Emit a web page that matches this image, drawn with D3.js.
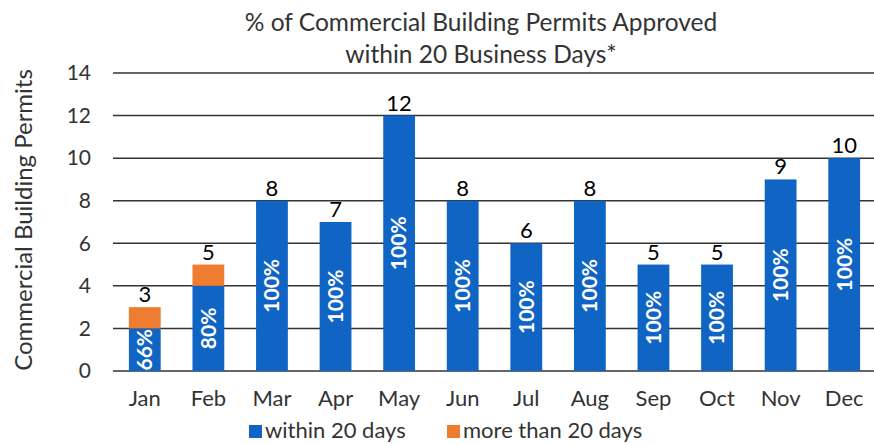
<!DOCTYPE html>
<html lang="en">
<head>
<meta charset="UTF-8">
<title>Commercial Building Permits</title>
<script src="https://cdn.jsdelivr.net/npm/d3@7"></script>
<style>
	body { margin: 0; background: #fff; }
	text { font-family: Lato, "Open Sans", sans-serif; }
</style>
</head>
<body>
<script>
	var months = ['Jan', 'Feb', 'Mar', 'Apr', 'May', 'Jun', 'Jul', 'Aug', 'Sep', 'Oct', 'Nov', 'Dec'];
	var within = [2, 4, 8, 7, 12, 8, 6, 8, 5, 5, 9, 10];
	var over = [1, 1, 0, 0, 0, 0, 0, 0, 0, 0, 0, 0];
	var pctLabels = ['66%', '80%', '100%', '100%', '100%', '100%', '100%', '100%', '100%', '100%', '100%', '100%'];
	var yTicks = [0, 2, 4, 6, 8, 10, 12, 14];

	var W = 874, H = 444;
	var margin = {top: 73, right: 0, bottom: 73, left: 113};
	var blue = '#0f64c4', orange = '#ee7d31';

	var svg = d3.select('body').append('svg')
		.attr('width', W)
		.attr('height', H);

	var x = d3.scaleBand()
		.domain(months)
		.range([margin.left, 876])
		.paddingInner(0.5)
		.paddingOuter(0.25);

	var y = d3.scaleLinear()
		.domain([0, 14])
		.range([371, margin.top]);

	// gridlines
	svg.append('g').selectAll('line')
		.data(yTicks)
		.enter().append('line')
		.attr('x1', margin.left).attr('x2', W)
		.attr('y1', function (d) { return y(d); })
		.attr('y2', function (d) { return y(d); })
		.style('stroke', '#333')
		.style('stroke-width', 1.5);

	var yAxis = svg.append('g')
		.attr('transform', 'translate(' + (margin.left - 14) + ',0)')
		.call(d3.axisLeft(y).tickValues(yTicks).tickSize(0).tickPadding(8));
	yAxis.select('.domain').remove();
	yAxis.selectAll('text').style('font-size', '21px').style('fill', '#333');

	var data = months.map(function (m, i) {
		return {month: m, within: within[i], over: over[i], pct: pctLabels[i]};
	});

	var bars = svg.selectAll('.bar')
		.data(data)
		.enter().append('g')
		.attr('class', 'bar');

	bars.append('rect')
		.attr('x', function (d) { return x(d.month); })
		.attr('width', x.bandwidth())
		.attr('y', function (d) { return y(d.within); })
		.attr('height', function (d) { return y(0) - y(d.within); })
		.style('fill', blue);

	bars.filter(function (d) { return d.over > 0; }).append('rect')
		.attr('x', function (d) { return x(d.month); })
		.attr('width', x.bandwidth())
		.attr('y', function (d) { return y(d.within + d.over); })
		.attr('height', function (d) { return y(d.within) - y(d.within + d.over); })
		.style('fill', orange);

	// totals above bars
	bars.append('text')
		.attr('x', function (d) { return x(d.month) + x.bandwidth() / 2; })
		.attr('y', function (d) { return y(d.within + d.over) - 5; })
		.attr('text-anchor', 'middle')
		.style('font-size', '22px')
		.style('fill', '#000')
		.text(function (d) { return d.within + d.over; });

	// percentages inside blue part
	bars.append('text')
		.attr('transform', function (d) {
			var cx = x(d.month) + x.bandwidth() / 2;
			var cy = (y(0) + y(d.within)) / 2;
			return 'translate(' + cx + ',' + cy + ') rotate(-90)';
		})
		.attr('text-anchor', 'middle')
		.attr('dy', '0.35em')
		.style('font-size', '21px')
		.style('font-weight', 'bold')
		.style('fill', '#fff')
		.text(function (d) { return d.pct; });

	var xAxis = svg.append('g')
		.attr('transform', 'translate(0,' + y(0) + ')')
		.call(d3.axisBottom(x).tickSize(0).tickPadding(19));
	xAxis.select('.domain').remove();
	xAxis.selectAll('text').style('font-size', '22px').style('fill', '#333');

	svg.append('text')
		.attr('transform', 'translate(24,' + 220 + ') rotate(-90)')
		.attr('text-anchor', 'middle')
		.attr('dy', '0.35em')
		.style('font-size', '24px')
		.style('fill', '#333')
		.text('Commercial Building Permits');

	svg.append('text')
		.attr('x', 481).attr('y', 31)
		.attr('text-anchor', 'middle')
		.style('font-size', '24.5px')
		.style('fill', '#333')
		.text('% of Commercial Building Permits Approved');
	svg.append('text')
		.attr('x', 481).attr('y', 63)
		.attr('text-anchor', 'middle')
		.style('font-size', '24.5px')
		.style('fill', '#333')
		.text('within 20 Business Days*');

	var legendItems = [
		{label: 'within 20 days', color: blue, x: 249},
		{label: 'more than 20 days', color: orange, x: 447}
	];
	var legend = svg.selectAll('.legend')
		.data(legendItems)
		.enter().append('g')
		.attr('class', 'legend')
		.attr('transform', function (d) { return 'translate(' + d.x + ',438)'; });
	legend.append('rect')
		.attr('x', 0).attr('y', -13)
		.attr('width', 13).attr('height', 13)
		.style('fill', function (d) { return d.color; });
	legend.append('text')
		.attr('x', 16).attr('y', 0)
		.style('font-size', '22px')
		.style('fill', '#333')
		.text(function (d) { return d.label; });
</script>
</body>
</html>
